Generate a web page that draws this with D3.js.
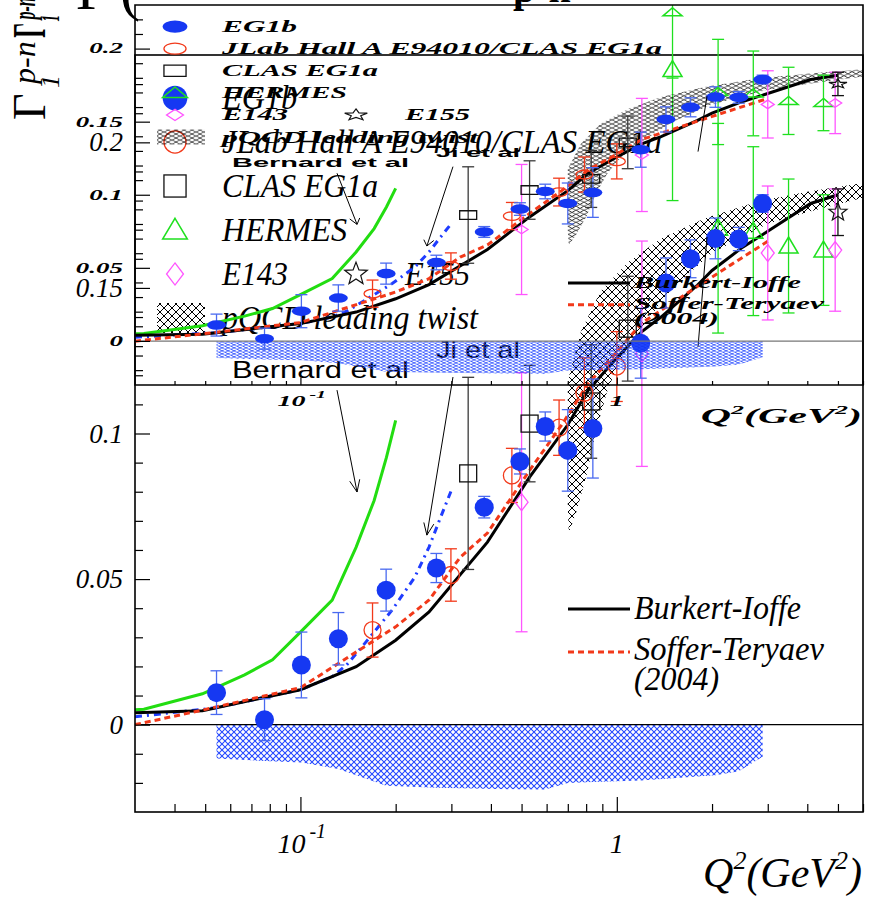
<!DOCTYPE html>
<html><head><meta charset="utf-8">
<script src="https://cdn.jsdelivr.net/npm/d3@7"></script>
<style>
html,body{margin:0;padding:0;background:#fff;}
svg{display:block;}
.small *{vector-effect:non-scaling-stroke;}
</style>
</head><body>
<svg id="chart" width="871" height="898"></svg>
<script>
// ---------------- data: Gamma_1^{p-n}(Q^2) ----------------
// EG1b (filled discs) with systematic band
const eg1bQ2  = [0.0543,0.077,0.1007,0.1318,0.1866,0.269,0.381,0.494,0.594,0.70,0.84,1.19,1.43,1.71,2.05,2.43,2.89];
const eg1bG   = [0.011,0.0017,0.0205,0.0295,0.0462,0.0538,0.0747,0.0904,0.1024,0.0942,0.1017,0.131,0.1517,0.160,0.167,0.1668,0.179];
const eg1bErr = [0.0075,0.0072,0.0113,0.009,0.0072,0.005,0.0037,0.0043,0.005,0.014,0.017,0.012,0.0086,0.0065,0.007,0.004,0.003];
const eg1bSys = [-0.0116,-0.0125,-0.013,-0.0152,-0.021,-0.0217,-0.022,-0.0222,-0.0223,-0.0200,-0.0197,-0.0192,-0.0186,-0.018,-0.0174,-0.016,-0.011];

// JLab Hall A E94010 / CLAS EG1a
const jlabQ2  = [0.169,0.299,0.466,0.657,0.79,1.0];
const jlabG   = [0.0325,0.0514,0.0856,0.102,0.114,0.123];
const jlabErr = [0.0093,0.009,0.0093,0.0095,0.012,0.012];

// CLAS EG1a
const clasQ2  = [0.339,0.53,0.83,1.083];
const clasG   = [0.0863,0.1034,0.111,0.136];
const clasErr = [0.033,0.02,0.0195,0.018];

// HERMES
const hermesQ2  = [1.5,2.09,2.7,3.49,4.5];
const hermesG   = [0.225,0.1705,0.1695,0.1644,0.163];
const hermesErr = [0.045,0.036,0.029,0.023,0.019];

// E143
const e143Q2  = [0.50,1.2,3.0,4.9];
const e143G   = [0.0764,0.1274,0.162,0.163];
const e143Err = [0.0445,0.0387,0.023,0.021];

// E155
const e155Q2  = [5.0];
const e155G   = [0.176];
const e155Err = [0.008];

// pQCD leading twist band (upper and lower edges)
const pqcdHiQ2 = [0.70,0.77,0.89,1.09,1.38,1.91,2.86,4.0,6.0];
const pqcdHi   = [0.118,0.135,0.149,0.159,0.167,0.174,0.180,0.183,0.186];
const pqcdLoQ2 = [0.70,0.705,0.74,0.80,0.86,0.93,1.0,1.1,1.25,1.5,2.0,3.0,4.0,6.0];
const pqcdLo   = [0.075,0.066,0.072,0.085,0.101,0.114,0.123,0.131,0.139,0.150,0.162,0.172,0.176,0.181];

// model curves
const bernardQ2 = [0.03,0.032,0.049,0.0666,0.0816,0.1,0.126,0.15,0.171,0.187,0.2];
const bernardG  = [0.0051,0.0053,0.0106,0.0171,0.0223,0.0318,0.0428,0.061,0.077,0.0918,0.1045];
const jiQ2 = [0.03,0.054,0.1,0.126,0.14,0.16,0.195,0.23,0.255,0.275,0.3];
const jiG  = [0.0027,0.0058,0.012,0.0165,0.0205,0.028,0.0394,0.0507,0.061,0.0702,0.0805];
const burkertQ2 = [0.03,0.049,0.1,0.15,0.2,0.255,0.39,0.53,0.70,0.81,1.0,1.2,1.38,1.8,2.0,2.5,2.86,4.1,5.0];
const burkertG  = [0.0041,0.0048,0.012,0.0199,0.029,0.0387,0.0627,0.085,0.103,0.1147,0.126,0.135,0.140,0.151,0.156,0.164,0.168,0.179,0.182];
const sofferQ2 = [0.03,0.049,0.1,0.2,0.255,0.32,0.39,0.53,0.67,0.81,1.0,1.2,1.77,2.3,3.0];
const sofferG  = [0.0,0.005,0.0127,0.0336,0.0428,0.0575,0.0658,0.0873,0.103,0.117,0.128,0.138,0.150,0.158,0.166];

// axis ticks
const yMajor = [0,0.05,0.1,0.15,0.2];
const yMinor = [-0.02,-0.01,0.01,0.02,0.03,0.04,0.06,0.07,0.08,0.09,0.11,0.12,0.13,0.14,0.16,0.17,0.18,0.19,0.21,0.22];
const xMajor = [0.1,1];
const xMinor = [0.04,0.05,0.06,0.07,0.08,0.09,0.2,0.3,0.4,0.5,0.6,0.7,0.8,0.9,2,3,4,5,6];

// legend labels
const dataLegend = [
  {label:"EG1b", m:"disc", w:75},
  {label:"JLab Hall A E94010/CLAS EG1a", m:"circle", w:440},
  {label:"CLAS EG1a", m:"square", w:156},
  {label:"HERMES", m:"triangle", w:125},
  {label:"E143", m:"diamond", w:66}
];
const modelLegend = ["Burkert-Ioffe","Soffer-Teryaev","(2004)"];

// ---------------- drawing ----------------
const C = {
  eg1b:"#1638f2", eg1bBar:"#4a6af0", red:"#f2391a", green:"#1fe01f",
  magenta:"#ff55ff", clasBar:"#3a3a3a", blueLine:"#1f3cff", greenLine:"#22dd11"
};
const serif = "'Liberation Serif','Times New Roman',serif";
const sans = "'Liberation Sans',Arial,sans-serif";

const x = d3.scaleLog().domain([0.03, 6]).range([135, 863]);
const y = d3.scaleLinear().domain([-0.03, 0.23]).range([812, 55]);

const svg = d3.select("#chart");
const defs = svg.append("defs");
function hatch(id, size, color, w) {
  const p = defs.append("pattern").attr("id", id)
    .attr("patternUnits", "userSpaceOnUse").attr("width", size).attr("height", size);
  p.append("path").attr("d", `M0,0L${size},${size}M${size},0L0,${size}`)
    .attr("stroke", color).attr("stroke-width", w).attr("fill", "none");
}
hatch("blackHatch", 8, "#000", 1);
hatch("blueHatch", 6, "#2448ff", 1.1);
defs.append("clipPath").attr("id", "frameClip").append("rect")
  .attr("x", x.range()[0]).attr("y", y.range()[1])
  .attr("width", x.range()[1] - x.range()[0]).attr("height", y.range()[0] - y.range()[1]);

function starPath(cx, cy, R) {
  const pts = [];
  for (let i = 0; i < 10; i++) {
    const r = i % 2 ? R * 0.42 : R;
    const a = -Math.PI / 2 + i * Math.PI / 5;
    pts.push([cx + r * Math.cos(a), cy + r * Math.sin(a)]);
  }
  return "M" + pts.map(p => p.join(",")).join("L") + "Z";
}

function marker(g, type, cx, cy, s) {
  switch (type) {
    case "disc":
      g.append("circle").attr("cx", cx).attr("cy", cy).attr("r", 9.5 * s).attr("fill", C.eg1b); break;
    case "circle":
      g.append("circle").attr("cx", cx).attr("cy", cy).attr("r", 8.5 * s)
        .attr("fill", "none").attr("stroke", C.red).attr("stroke-width", 1.3); break;
    case "square":
      g.append("rect").attr("x", cx - 8.5 * s).attr("y", cy - 8.5 * s).attr("width", 17 * s).attr("height", 17 * s)
        .attr("fill", "none").attr("stroke", "#111").attr("stroke-width", 1.3); break;
    case "triangle":
      g.append("path").attr("d", `M${cx},${cy - 9 * s}L${cx + 9.5 * s},${cy + 7 * s}L${cx - 9.5 * s},${cy + 7 * s}Z`)
        .attr("fill", "none").attr("stroke", C.green).attr("stroke-width", 1.5); break;
    case "diamond":
      g.append("path").attr("d", `M${cx},${cy - 8.5 * s}L${cx + 6.5 * s},${cy}L${cx},${cy + 8.5 * s}L${cx - 6.5 * s},${cy}Z`)
        .attr("fill", "none").attr("stroke", C.magenta).attr("stroke-width", 1.3); break;
    case "star":
      g.append("path").attr("d", starPath(cx, cy, 9.5 * s))
        .attr("fill", "none").attr("stroke", "#111").attr("stroke-width", 1.2); break;
  }
}

function errorBars(g, q2, vals, errs, color) {
  q2.forEach((q, i) => {
    const cx = x(q), y1 = y(vals[i] + errs[i]), y2 = y(vals[i] - errs[i]);
    g.append("line").attr("x1", cx).attr("x2", cx).attr("y1", y1).attr("y2", y2)
      .attr("stroke", color).attr("stroke-width", 1.3);
    [y1, y2].forEach(yy => g.append("line").attr("x1", cx - 6).attr("x2", cx + 6)
      .attr("y1", yy).attr("y2", yy).attr("stroke", color).attr("stroke-width", 1.3));
  });
}

function arrow(g, from, to) {
  const x1 = x(from[0]), y1 = y(from[1]), x2 = x(to[0]), y2 = y(to[1]);
  g.append("line").attr("x1", x1).attr("y1", y1).attr("x2", x2).attr("y2", y2)
    .attr("stroke", "#000").attr("stroke-width", 1);
  const a = Math.atan2(y2 - y1, x2 - x1), L = 13, h = 0.4;
  g.append("path")
    .attr("d", `M${x2 - L * Math.cos(a - h)},${y2 - L * Math.sin(a - h)}L${x2},${y2}L${x2 - L * Math.cos(a + h)},${y2 - L * Math.sin(a + h)}`)
    .attr("fill", "none").attr("stroke", "#000").attr("stroke-width", 1);
}

function drawPlot(g, bold) {
  const fw = bold ? "bold" : "normal";
  const line = d3.line().x(d => x(d[0])).y(d => y(d[1]));
  const data = g.append("g").attr("clip-path", "url(#frameClip)");

  // EG1b systematic uncertainty
  data.append("path")
    .attr("d", d3.area().x(d => x(d[0])).y0(y(0)).y1(d => y(d[1]))(d3.zip(eg1bQ2, eg1bSys)))
    .attr("fill", "url(#blueHatch)");

  // pQCD leading-twist band
  const band = d3.zip(pqcdHiQ2, pqcdHi).concat(d3.zip(pqcdLoQ2, pqcdLo).reverse());
  data.append("path").attr("d", line(band) + "Z").attr("fill", "url(#blackHatch)");

  // zero line
  data.append("line").attr("x1", x.range()[0]).attr("x2", x.range()[1])
    .attr("y1", y(0)).attr("y2", y(0)).attr("stroke", bold ? "#777" : "#000").attr("stroke-width", 1.2);

  // model curves
  data.append("path").attr("d", line(d3.zip(bernardQ2, bernardG)))
    .attr("fill", "none").attr("stroke", C.greenLine).attr("stroke-width", 3);
  data.append("path").attr("d", line(d3.zip(jiQ2, jiG)))
    .attr("fill", "none").attr("stroke", C.blueLine).attr("stroke-width", 3).attr("stroke-dasharray", "7,5,2,5");
  data.append("path").attr("d", line(d3.zip(burkertQ2, burkertG)))
    .attr("fill", "none").attr("stroke", "#000").attr("stroke-width", 3);
  data.append("path").attr("d", line(d3.zip(sofferQ2, sofferG)))
    .attr("fill", "none").attr("stroke", C.red).attr("stroke-width", 3).attr("stroke-dasharray", "6,4");

  // error bars
  errorBars(data, hermesQ2, hermesG, hermesErr, C.green);
  errorBars(data, e143Q2, e143G, e143Err, C.magenta);
  errorBars(data, clasQ2, clasG, clasErr, C.clasBar);
  errorBars(data, e155Q2, e155G, e155Err, "#111");
  errorBars(data, jlabQ2, jlabG, jlabErr, C.red);
  errorBars(data, eg1bQ2, eg1bG, eg1bErr, C.eg1bBar);

  // markers
  const mk = g.append("g");
  hermesQ2.forEach((q, i) => marker(mk, "triangle", x(q), y(hermesG[i]), 1));
  e143Q2.forEach((q, i) => marker(mk, "diamond", x(q), y(e143G[i]), 1));
  clasQ2.forEach((q, i) => marker(mk, "square", x(q), y(clasG[i]), 1));
  e155Q2.forEach((q, i) => marker(mk, "star", x(q), y(e155G[i]), 1));
  jlabQ2.forEach((q, i) => marker(mk, "circle", x(q), y(jlabG[i]), 1));
  eg1bQ2.forEach((q, i) => marker(mk, "disc", x(q), y(eg1bG[i]), 1));

  // axes
  const ax = g.append("g");
  const x0 = x.range()[0], y0 = y.range()[0];
  ax.append("g").attr("transform", `translate(${x0},0)`)
    .call(d3.axisLeft(y).tickValues(yMinor).tickSize(-8).tickFormat(""));
  const yMaj = ax.append("g").attr("transform", `translate(${x0},0)`)
    .call(d3.axisLeft(y).tickValues(yMajor).tickSize(-15).tickPadding(12)
      .tickFormat(d => d === 0 ? "0" : String(d)));
  ax.append("g").attr("transform", `translate(0,${y0})`)
    .call(d3.axisBottom(x).tickValues(xMinor).tickSize(-8).tickFormat(""));
  ax.append("g").attr("transform", `translate(0,${y0})`)
    .call(d3.axisBottom(x).tickValues(xMajor).tickSize(-15).tickFormat(""));
  ax.selectAll(".domain").remove();
  ax.selectAll(".tick line").attr("stroke", "#000").attr("stroke-width", 1.2);
  yMaj.selectAll("text").attr("font-family", serif).attr("font-style", "italic")
    .attr("font-weight", fw).attr("font-size", 27).attr("fill", "#000");

  // frame
  ax.append("rect").attr("x", x0).attr("y", y.range()[1])
    .attr("width", x.range()[1] - x0).attr("height", y0 - y.range()[1])
    .attr("fill", "none").attr("stroke", "#000").attr("stroke-width", 1.6);

  // x tick labels
  const xl = ax.append("g").attr("font-family", serif).attr("font-style", "italic")
    .attr("font-weight", fw).attr("fill", "#000");
  const t10 = xl.append("text").attr("x", x(0.1) - 23).attr("y", y0 + 41).attr("font-size", 28);
  t10.append("tspan").text("10");
  t10.append("tspan").attr("font-size", 20).attr("dy", -15).attr("dx", 4).text("-1");
  xl.append("text").attr("x", x(1)).attr("y", y0 + 41).attr("text-anchor", "middle")
    .attr("font-size", 28).text("1");

  // x axis title
  const xt = xl.append("text").attr("x", 862).attr("y", y0 + 75).attr("text-anchor", "end").attr("font-size", 42);
  xt.append("tspan").text("Q");
  xt.append("tspan").attr("font-size", 26).attr("dy", -18).text("2");
  xt.append("tspan").attr("dy", 18).text("(GeV");
  xt.append("tspan").attr("font-size", 26).attr("dy", -18).text("2");
  xt.append("tspan").attr("dy", 18).text(")");

  // y axis title
  const yt = g.append("g").attr("transform", "translate(45,120) rotate(-90)")
    .attr("font-family", serif).attr("font-weight", fw).attr("fill", "#000");
  yt.append("text").attr("x", 0).attr("y", 0).attr("font-size", 46).text("\u0393");
  yt.append("text").attr("x", 32).attr("y", 14).attr("font-size", 26).attr("font-style", "italic").text("1");
  yt.append("text").attr("x", 36).attr("y", -10).attr("font-size", 32).attr("font-style", "italic").text("p-n");

  // panel title, mostly above the window
  const tt = g.append("g").attr("font-family", serif).attr("font-weight", fw).attr("fill", "#000");
  tt.append("text").attr("x", 76).attr("y", 9).attr("font-size", 60).text("\u0393");
  tt.append("text").attr("x", 120).attr("y", 9).attr("font-size", 60).text("(");
  tt.append("text").attr("x", 513).attr("y", 2).attr("font-size", 40).attr("font-weight", "bold").text("p-n");

  // data legend
  const lg = g.append("g").attr("font-family", serif).attr("font-style", "italic")
    .attr("font-weight", fw).attr("font-size", 33).attr("fill", "#000");
  dataLegend.forEach((e, i) => {
    const cy = 98 + i * 44;
    marker(lg, e.m, 175, cy, 1.3);
    lg.append("text").attr("x", 222).attr("y", cy + 11)
      .attr("textLength", e.w).attr("lengthAdjust", "spacingAndGlyphs").text(e.label);
  });
  marker(lg, "star", 356, 274, 1.25);
  lg.append("text").attr("x", 405).attr("y", 285)
    .attr("textLength", 65).attr("lengthAdjust", "spacingAndGlyphs").text("E155");
  lg.append("rect").attr("x", 157).attr("y", 303).attr("width", 48).attr("height", 30)
    .attr("fill", "url(#blackHatch)");
  lg.append("text").attr("x", 222).attr("y", 329)
    .attr("textLength", 256).attr("lengthAdjust", "spacingAndGlyphs").text("pQCD leading twist");

  // model legend
  lg.append("line").attr("x1", 568).attr("x2", 630).attr("y1", 609).attr("y2", 609)
    .attr("stroke", "#000").attr("stroke-width", 3);
  lg.append("line").attr("x1", 568).attr("x2", 630).attr("y1", 652).attr("y2", 652)
    .attr("stroke", C.red).attr("stroke-width", 3).attr("stroke-dasharray", "6,4");
  const mw = [167, 190, 85];
  modelLegend.forEach((t, i) => {
    lg.append("text").attr("x", 634).attr("y", [619, 660, 690][i])
      .attr("textLength", mw[i]).attr("lengthAdjust", "spacingAndGlyphs").text(t);
  });

  // annotations
  const an = g.append("g");
  an.append("text").attr("x", 232).attr("y", 378).attr("font-family", sans).attr("font-size", 24)
    .attr("font-weight", bold ? "bold" : "normal")
    .attr("textLength", 177).attr("lengthAdjust", "spacingAndGlyphs").text("Bernard et al");
  an.append("text").attr("x", 436).attr("y", 358).attr("font-family", sans).attr("font-size", 24)
    .attr("font-weight", bold ? "bold" : "normal")
    .attr("textLength", 84).attr("lengthAdjust", "spacingAndGlyphs").text("Ji et al");
  arrow(an, [0.1305, 0.1149], [0.151, 0.0799]);
  arrow(an, [0.3035, 0.1194], [0.251, 0.0651]);
  an.append("line").attr("x1", x(1.806)).attr("y1", y(0.1297)).attr("x2", x(1.928)).attr("y2", y(0.1675))
    .attr("stroke", "#000").attr("stroke-width", 1);
}

// full-size panel
drawPlot(svg.append("g"), false);
// compressed copy on top
const k = 380 / 757;
drawPlot(svg.append("g").attr("class", "small").attr("transform", `translate(0,${5 - 55 * k}) scale(1,${k})`), true);
</script>
</body></html>
